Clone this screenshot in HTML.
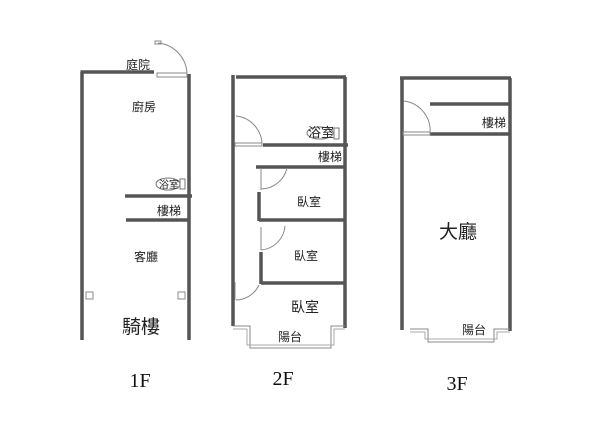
<!DOCTYPE html>
<html><head><meta charset="utf-8"><style>
html,body{margin:0;padding:0;background:#fff;}
svg{display:block;}
text{font-family:"Liberation Sans","Noto Sans CJK TC",sans-serif;fill:#222;}
.f{font-family:"Liberation Serif",serif;fill:#111;}
</style></head><body>
<svg width="600" height="433" viewBox="0 0 600 433" xmlns="http://www.w3.org/2000/svg">
<g stroke="#555" stroke-width="3.5" fill="none" stroke-linecap="butt">
<!-- 1F -->
<line x1="82" y1="72" x2="82" y2="340"/>
<line x1="80.5" y1="72" x2="154" y2="72"/>
<line x1="189" y1="74" x2="189" y2="340"/>
<line x1="125" y1="196" x2="192" y2="196"/>
<line x1="126" y1="220" x2="189" y2="220"/>
<!-- 2F -->
<line x1="233" y1="75" x2="233" y2="326"/>
<line x1="236" y1="77" x2="346" y2="77"/>
<line x1="345" y1="77" x2="345" y2="328"/>
<line x1="263" y1="145" x2="348" y2="145"/>
<line x1="256" y1="167" x2="345" y2="167"/>
<line x1="259" y1="192" x2="259" y2="221"/>
<line x1="259" y1="220" x2="345" y2="220"/>
<line x1="261" y1="252" x2="261" y2="284"/>
<line x1="261" y1="283" x2="345" y2="283"/>
<!-- 3F -->
<line x1="402" y1="78" x2="402" y2="330"/>
<line x1="400" y1="78" x2="511" y2="78"/>
<line x1="510" y1="78" x2="510" y2="331"/>
<line x1="430" y1="104" x2="510" y2="104"/>
<line x1="430" y1="134" x2="510" y2="134"/>
</g>
<g stroke="#888" stroke-width="1" fill="none">
<!-- 1F door -->
<path d="M158 43 A32 32 0 0 1 187 75"/>
<rect x="157" y="73" width="30" height="4"/>
<rect x="155" y="41" width="6" height="3"/>
<rect x="86" y="292" width="7" height="7"/>
<rect x="178" y="292" width="7" height="7"/>
<!-- 2F doors -->
<path d="M236 116 A29 29 0 0 1 262 145"/>
<rect x="235" y="143" width="27" height="3"/>
<path d="M287 168 A27 27 0 0 1 261 189"/>
<line x1="261" y1="168" x2="261" y2="190"/>
<path d="M285 226 A26 26 0 0 1 261 250"/>
<line x1="261" y1="227" x2="261" y2="250"/>
<path d="M259 285 A26 26 0 0 1 236 300"/>
<line x1="235" y1="282" x2="235" y2="300"/>
<!-- 2F balcony -->
<path d="M233 326 H250 V348 H331 V326 H345"/>
<path d="M233 329 H247 V345 H334 V329 H345" stroke="#aaa"/>
<!-- 3F door -->
<path d="M404 101 A30 30 0 0 1 430 134"/>
<rect x="403" y="132" width="27" height="3"/>
<!-- 3F balcony -->
<path d="M410 329 H428 V342 H494 V329 H510"/>
<path d="M410 332 H425 V339 H497 V332 H510" stroke="#aaa"/>
</g>
<ellipse cx="168" cy="184" rx="12" ry="6" fill="none" stroke="#777" stroke-width="1"/>
<rect x="180" y="179" width="5" height="10" fill="none" stroke="#777" stroke-width="1"/>
<ellipse cx="320" cy="133" rx="13" ry="6" fill="none" stroke="#777" stroke-width="1"/>
<rect x="334" y="128" width="5" height="11" fill="none" stroke="#777" stroke-width="1"/>
<g font-size="12" text-anchor="middle">
<text x="138" y="69">庭院</text>
<text x="144" y="111">廚房</text>
<text x="169" y="188" font-size="10">浴室</text>
<text x="169" y="215">樓梯</text>
<text x="146" y="261">客廳</text>
<text x="321" y="137" font-size="13">浴室</text>
<text x="330" y="161">樓梯</text>
<text x="309" y="206">臥室</text>
<text x="306" y="260">臥室</text>
<text x="305" y="312" font-size="14">臥室</text>
<text x="290" y="341">陽台</text>
<text x="494" y="127">樓梯</text>
<text x="474" y="334">陽台</text>
</g>
<text x="141" y="333" font-size="19" text-anchor="middle">騎樓</text>
<text x="458" y="238" font-size="19" text-anchor="middle">大廳</text>
<g font-size="20" text-anchor="middle" class="f">
<text class="f" x="140" y="387">1F</text>
<text class="f" x="283" y="385">2F</text>
<text class="f" x="457" y="390">3F</text>
</g>
</svg>
</body></html>
